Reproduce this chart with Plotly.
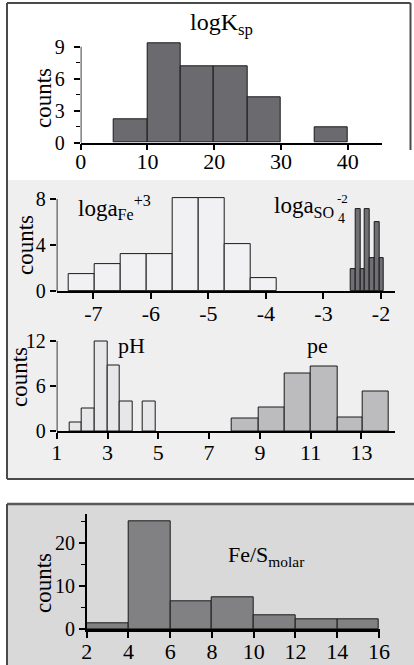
import plotly.graph_objects as go

W, H = 414, 665
FONT = "Liberation Serif, Times New Roman, Times, serif"

# ---------------- data ----------------
ksp_edges = [5, 10, 15, 20, 25, 30, 35, 40]
ksp_counts = [2.2, 9.3, 7.2, 7.2, 4.3, 0, 1.4]

fe_edges = [-7.42, -6.97, -6.52, -6.07, -5.625, -5.175, -4.72, -4.265, -3.82]
fe_counts = [1.5, 2.3, 3.2, 3.2, 8.1, 8.1, 4.1, 1.1]

so4_edges = [-2.525, -2.4425, -2.36, -2.2775, -2.195, -2.1125, -2.03, -1.9475]
so4_counts = [1.9, 7.1, 1.9, 7.1, 2.85, 5.95, 2.85]

ph_edges = [1.5, 2.0, 2.5, 3.0, 3.5, 4.0, 4.4, 4.9]
ph_counts = [1.2, 3.0, 12.0, 8.7, 3.9, 0, 3.9]

pe_edges = [7.89, 8.94, 9.96, 11.0, 12.05, 13.05, 14.08]
pe_counts = [1.7, 3.2, 7.7, 8.6, 1.8, 5.3]

fes_edges = [2, 4, 6, 8, 10, 12, 14, 16]
fes_counts = [1.4, 25.0, 6.4, 7.4, 3.3, 2.3, 2.3]

ksp_ticks = [0, 10, 20, 30, 40]
fe_ticks = [-7, -6, -5, -4, -3, -2]
ph_ticks = [1, 3, 5, 7, 9, 11, 13]
fes_ticks = [2, 4, 6, 8, 10, 12, 14, 16]


def px(x):
    return x / W


def py(y):
    return 1 - y / H


def hist_bar(edges, counts, fill, xa, ya):
    lefts = edges[:-1]
    widths = [b - a for a, b in zip(edges[:-1], edges[1:])]
    centers = [a + w / 2 for a, w in zip(lefts, widths)]
    xs, ys, ws = [], [], []
    for c, v, w in zip(centers, counts, widths):
        if v > 0:
            xs.append(c); ys.append(v); ws.append(w)
    return go.Bar(x=xs, y=ys, width=ws, xaxis=xa, yaxis=ya,
                  marker=dict(color=fill, line=dict(color="#1a1a1a", width=1)),
                  showlegend=False, hoverinfo="skip")


fig = go.Figure()
fig.add_trace(hist_bar(ksp_edges, ksp_counts, "#6b6b6f", "x", "y"))
fig.add_trace(hist_bar(fe_edges, fe_counts, "#f1f1f3", "x2", "y2"))
fig.add_trace(hist_bar(so4_edges, so4_counts, "#707074", "x2", "y2"))
fig.add_trace(hist_bar(ph_edges, ph_counts, "#e7e7e9", "x3", "y3"))
fig.add_trace(hist_bar(pe_edges, pe_counts, "#bcbcbf", "x3", "y3"))
fig.add_trace(hist_bar(fes_edges, fes_counts, "#818184", "x4", "y4"))

xt = dict(family=FONT, size=22, color="black")
yt = dict(family=FONT, size=20, color="black")


def xaxis(dom, rng, ticks, lw=1.5, standoff=-4):
    return dict(domain=dom, range=rng, tickvals=ticks, ticktext=[str(t) for t in ticks],
                showline=True, linecolor="black", linewidth=lw, ticks="outside",
                ticklen=6, tickwidth=1.5, tickcolor="black", showgrid=False,
                zeroline=False, tickfont=xt, automargin=False, fixedrange=True,
                ticklabelstandoff=standoff)


def yaxis(dom, rng, ticks, minor=None, showline=False, standoff=0):
    d = dict(domain=dom, range=rng, tickvals=ticks, ticktext=[str(t) for t in ticks],
             showline=showline, linecolor="black", linewidth=1.5, ticks="outside",
             ticklen=6, tickwidth=1.5, tickcolor="black", showgrid=False,
             zeroline=False, tickfont=yt, automargin=False, fixedrange=True,
             ticklabelstandoff=standoff)
    if minor is not None:
        d["minor"] = dict(tickvals=minor, ticks="outside", ticklen=4, tickwidth=1.2,
                          tickcolor="black", showgrid=False)
    return d


fig.update_layout(
    xaxis=xaxis([px(80.7), px(381.7)], [0, 45.1], ksp_ticks, standoff=-8),
    yaxis=yaxis([py(142.7), py(40.3)], [0, 9.6], [0, 3, 6, 9], minor=[1.5, 4.5, 7.5], standoff=5),
    xaxis2=xaxis([px(56.7), px(395)], [-7.636, -1.757], fe_ticks),
    yaxis2=yaxis([py(291), py(192.1)], [0, 8.6], [0, 4, 8]),
    xaxis3=xaxis([px(56.7), px(395)], [1, 14.32], ph_ticks, standoff=-5),
    yaxis3=yaxis([py(431), py(336.5)], [0, 12.6], [0, 6, 12]),
    xaxis4=xaxis([px(86.7), px(380)], [2, 16.05], fes_ticks, lw=2.5, standoff=-5),
    yaxis4=yaxis([py(629.3), py(514.3)], [0, 26.74], [0, 10, 20], minor=[5, 15, 25], showline=True),
)
for i in (2, 3, 4):
    fig.layout[f"xaxis{i}"].anchor = f"y{i}"
    fig.layout[f"yaxis{i}"].anchor = f"x{i}"

shapes = []
shapes.append(dict(type="rect", xref="paper", yref="paper", x0=px(7), x1=1.0, y0=py(479), y1=py(180),
                   fillcolor="#efefef", line=dict(width=0), layer="below"))
shapes.append(dict(type="rect", xref="paper", yref="paper", x0=px(7), x1=1.0, y0=0, y1=py(504),
                   fillcolor="#d9d9d9", line=dict(width=0), layer="below"))
bc = dict(color="#4a4a4a", width=2)
shapes += [
    dict(type="line", xref="paper", yref="paper", x0=px(7), x1=px(7), y0=py(3), y1=py(479), line=bc),
    dict(type="line", xref="paper", yref="paper", x0=px(7), x1=px(410.5), y0=py(3), y1=py(3), line=bc),
    dict(type="line", xref="paper", yref="paper", x0=px(410.5), x1=px(410.5), y0=py(3), y1=py(150), line=bc),
    dict(type="line", xref="paper", yref="paper", x0=px(7), x1=1.0, y0=py(479), y1=py(479), line=bc),
    dict(type="line", xref="paper", yref="paper", x0=px(7), x1=1.0, y0=py(504), y1=py(504),
         line=dict(color="#5a5a5a", width=2.5)),
    dict(type="line", xref="paper", yref="paper", x0=px(7), x1=px(7), y0=0, y1=py(504), line=bc),
]
al = dict(color="black", width=1.5)
shapes += [
    dict(type="line", xref="x", yref="y", x0=0, x1=0, y0=0, y1=9, line=al),
    dict(type="line", xref="x2", yref="y2", x0=-7.636, x1=-7.636, y0=0, y1=8, line=al),
    dict(type="line", xref="x3", yref="y3", x0=1, x1=1, y0=0, y1=12, line=al),
]
fig.update_layout(shapes=shapes)


def ann(text, x, y, size=22, xanchor="center", angle=0):
    return dict(text=text, x=px(x), y=py(y), xref="paper", yref="paper", showarrow=False,
                xanchor=xanchor, yanchor="middle", textangle=angle,
                font=dict(family=FONT, size=size, color="black"))


anns = [
    ann("logK<sub>sp</sub>", 221, 24, size=24),
    ann("counts", 43, 98, size=23, angle=-90),
    ann("counts", 25, 245, size=23, angle=-90),
    ann("counts", 19, 377, size=23, angle=-90),
    ann("counts", 43, 583, size=23, angle=-90),
    ann("loga<sub>Fe</sub><sup>+3</sup>", 76, 207, size=23, xanchor="left"),
    ann("loga<sub>SO</sub>", 272, 207, size=23, xanchor="left"),
    ann("4", 341.5, 218, size=14),
    ann("-2", 342, 198, size=13),
    ann("pH", 131, 345, size=22),
    ann("pe", 317, 345, size=22),
    ann("Fe/S<sub>molar</sub>", 226, 556, size=22, xanchor="left"),
]
fig.update_layout(annotations=anns)

fig.update_layout(width=W, height=H, margin=dict(l=0, r=0, t=0, b=0),
                  paper_bgcolor="white", plot_bgcolor="rgba(0,0,0,0)",
                  bargap=0, barmode="overlay", showlegend=False,
                  font=dict(family=FONT))

fig.write_html("out.html", config={"displayModeBar": False})
